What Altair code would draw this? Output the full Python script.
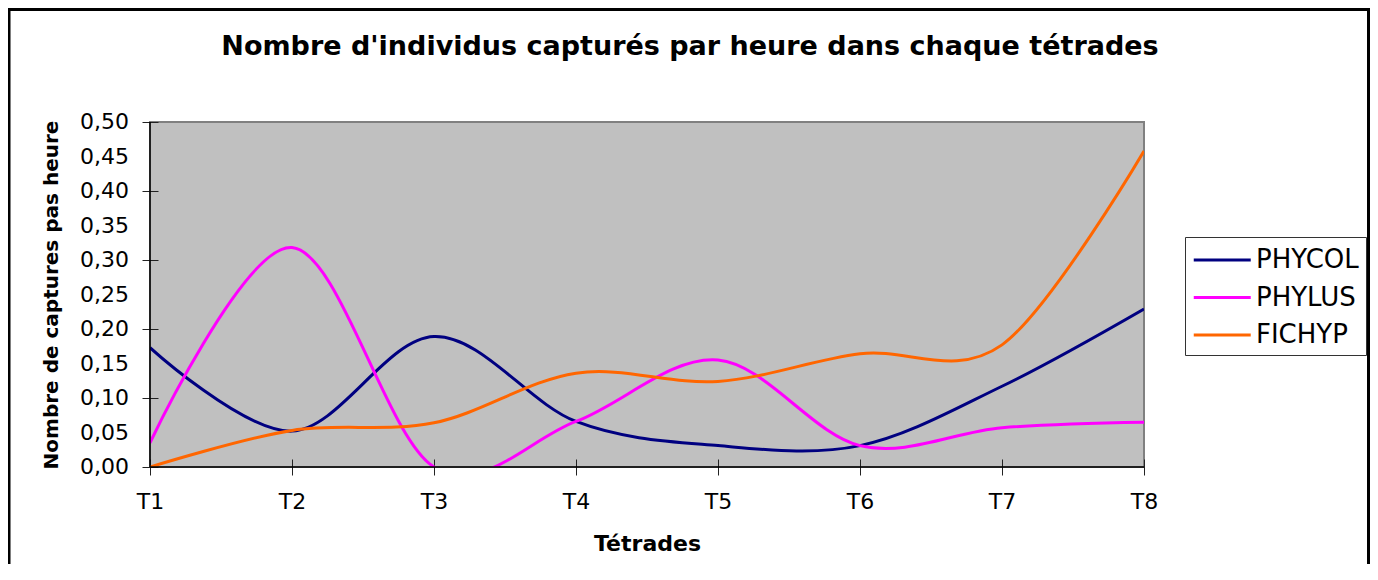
import altair as alt
import pandas as pd

# ---- data ----
tetrades = ["T1", "T2", "T3", "T4", "T5", "T6", "T7", "T8"]
positions = [1, 2, 3, 4, 5, 6, 7, 8]
phycol = [0.173, 0.052, 0.189, 0.066, 0.031, 0.031, 0.117, 0.229]
phylus = [0.035, 0.318, 0.0, 0.066, 0.155, 0.031, 0.057, 0.065]
fichyp = [0.0, 0.053, 0.064, 0.136, 0.124, 0.164, 0.177, 0.458]
series = ["PHYCOL", "PHYLUS", "FICHYP"]
colors = ["#000080", "#FF00FF", "#FF6600"]
y_ticks = [0.0, 0.05, 0.10, 0.15, 0.20, 0.25, 0.30, 0.35, 0.40, 0.45, 0.50]
title_text = "Nombre d'individus capturés par heure dans chaque tétrades"

rows = []
for name, vals in zip(series, [phycol, phylus, fichyp]):
    for p, t, v in zip(positions, tetrades, vals):
        rows.append({"pos": p, "tetrade": t, "serie": name, "valeur": v})
df = pd.DataFrame(rows)

FONT = "DejaVu Sans"
W, H = 994, 345

x_enc = alt.X(
    "pos:Q",
    scale=alt.Scale(domain=[1, 8], nice=False, zero=False),
    axis=alt.Axis(
        values=positions,
        labelExpr="'T' + datum.value",
        labelFlush=False,
        labelOverlap=False,
        title="Tétrades",
        offset=-8,
        tickSize=16,
        tickColor="#222222",
        domain=False,
        grid=False,
        labelPadding=16,
        labelFont=FONT,
        labelFontSize=22,
        labelColor="black",
        titleFont=FONT,
        titleFontSize=22,
        titleFontWeight="bold",
        titleColor="black",
        titlePadding=21,
    ),
)
y_scale = alt.Scale(domain=[0, 0.5], nice=False)
y_enc = alt.Y(
    "valeur:Q",
    scale=y_scale,
    axis=alt.Axis(
        values=y_ticks,
        labels=False,
        title="Nombre de captures pas heure",
        offset=-8,
        tickSize=16,
        tickColor="#222222",
        domain=False,
        grid=False,
        titleFont=FONT,
        titleFontSize=20,
        titleFontWeight="bold",
        titleColor="black",
        titlePadding=80,
    ),
)

lines = alt.Chart(df).mark_line(interpolate="cardinal", strokeWidth=3, clip=True).encode(
    x=x_enc,
    y=y_enc,
    color=alt.Color(
        "serie:N",
        scale=alt.Scale(domain=series, range=colors),
        legend=alt.Legend(
            title=None,
            orient="none",
            legendX=1035,
            legendY=115,
            symbolType="M-1,0H3",
            symbolSize=812,
            symbolStrokeWidth=3,
            symbolFillColor="transparent",
            labelFont=FONT,
            labelFontSize=26,
            labelColor="black",
            labelOffset=32,
            padding=7,
            rowPadding=8.5,
            strokeColor="#333333",
            fillColor="white",
        ),
    ),
)

# y tick labels with a decimal comma, placed through the y scale
ylabels = (
    alt.Chart(pd.DataFrame({"valeur": y_ticks}))
    .transform_calculate(lab="replace(format(datum.valeur, '.2f'), '.', ',')")
    .mark_text(align="right", baseline="middle", font=FONT, fontSize=22, color="black")
    .encode(x=alt.value(-21), y=alt.Y("valeur:Q"), text="lab:N")
)

one = pd.DataFrame({"k": [0]})
left_border = alt.Chart(one).mark_rule(color="black", strokeWidth=1.5).encode(x=alt.datum(1))
bottom_border = alt.Chart(one).mark_rule(color="black", strokeWidth=1.5).encode(y=alt.datum(0))
frame = alt.Chart(one).mark_rect(fill=None, stroke="black", strokeWidth=3).encode(
    x=alt.value(-141), x2=alt.value(1218.5), y=alt.value(-112.5), y2=alt.value(520)
)
title = (
    alt.Chart(pd.DataFrame({"t": [title_text]}))
    .mark_text(align="center", baseline="alphabetic", font=FONT, fontSize=27,
               fontWeight="bold", color="black")
    .encode(x=alt.value(540), y=alt.value(-67), text="t:N")
)

chart = (
    alt.layer(frame, lines, left_border, bottom_border, ylabels, title)
    .properties(
        width=W,
        height=H,
        autosize=alt.AutoSizeParams(type="none"),
        padding={"left": 142, "top": 114, "right": 226, "bottom": 97},
        background="white",
    )
    .configure_view(fill="#C0C0C0", stroke="#808080", strokeWidth=2)
)

chart.save("out.html", embed_options={"renderer": "svg", "actions": False})
